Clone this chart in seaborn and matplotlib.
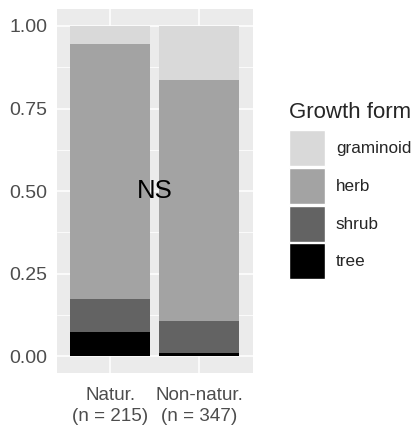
import matplotlib
matplotlib.use("Agg")
import matplotlib.pyplot as plt
from matplotlib.patches import Patch
import seaborn as sns
import pandas as pd
import numpy as np

# data (proportions per growth form)
sites = ["Natur.\n(n = 215)", "Non-natur.\n(n = 347)"]
forms = ["graminoid", "herb", "shrub", "tree"]
tree = [0.075, 0.010]
shrub = [0.100, 0.097]
herb = [0.771, 0.730]
graminoid = [0.054, 0.163]
colors = {"graminoid": "#d9d9d9", "herb": "#a3a3a3", "shrub": "#636363", "tree": "#000000"}

sns.set_theme(style="darkgrid")
plt.rcParams["font.family"] = ["Liberation Sans", "DejaVu Sans"]

# cumulative tops, bottom-up: tree, shrub, herb, graminoid
props = pd.DataFrame({"tree": tree, "shrub": shrub, "herb": herb, "graminoid": graminoid}, index=sites)
tops = props.cumsum(axis=1)

fig = plt.figure(figsize=(4.2, 4.3), dpi=100)
ax = fig.add_axes([0.135, 0.1326, 0.467, 0.8457])
ax.set_facecolor("#ebebeb")

# draw tallest first so lower segments overlay
for f in ["graminoid", "herb", "shrub", "tree"]:
    df = pd.DataFrame({"site": sites, "top": tops[f].values})
    sns.barplot(data=df, x="site", y="top", color=colors[f], width=0.9,
                saturation=1, linewidth=0, ax=ax, zorder=3)

ax.set_xlim(-0.6, 1.6)
ax.set_ylim(-0.05, 1.05)
ax.set_yticks([0, 0.25, 0.5, 0.75, 1.0])
ax.set_yticklabels(["0.00", "0.25", "0.50", "0.75", "1.00"])
ax.set_yticks([0.125, 0.375, 0.625, 0.875], minor=True)
ax.grid(True, which="major", color="white", linewidth=1.1, zorder=0)
ax.grid(True, which="minor", axis="y", color="white", linewidth=0.55, zorder=0)
ax.set_axisbelow(True)
for s in ax.spines.values():
    s.set_visible(False)
ax.set_xlabel("")
ax.set_ylabel("")
ax.tick_params(axis="both", which="major", length=3.5, width=1, color="#333333",
               labelcolor="#4d4d4d", labelsize=14, pad=3, direction="out")
ax.tick_params(axis="y", which="minor", length=0)
ax.tick_params(axis="x", which="major", pad=6.5, labelsize=13.6)
for t in ax.get_xticklabels():
    t.set_linespacing(1.3)

ax.text(0.5, 0.5, "NS", ha="center", va="center", fontsize=18.5, color="black", zorder=5)

handles = [Patch(facecolor=colors[f], edgecolor="white", linewidth=1, label=f) for f in forms]
leg = fig.legend(handles=handles, title="Growth form", loc="upper left",
                 bbox_to_anchor=(0.688, 0.762), frameon=False, fontsize=12.3,
                 title_fontsize=16, handlelength=2.1, handleheight=2.86,
                 labelspacing=0.1, handletextpad=0.65, borderpad=0,
                 borderaxespad=0, alignment="left")
leg._legend_box.sep = 5

fig.savefig("out.png", dpi=100)
